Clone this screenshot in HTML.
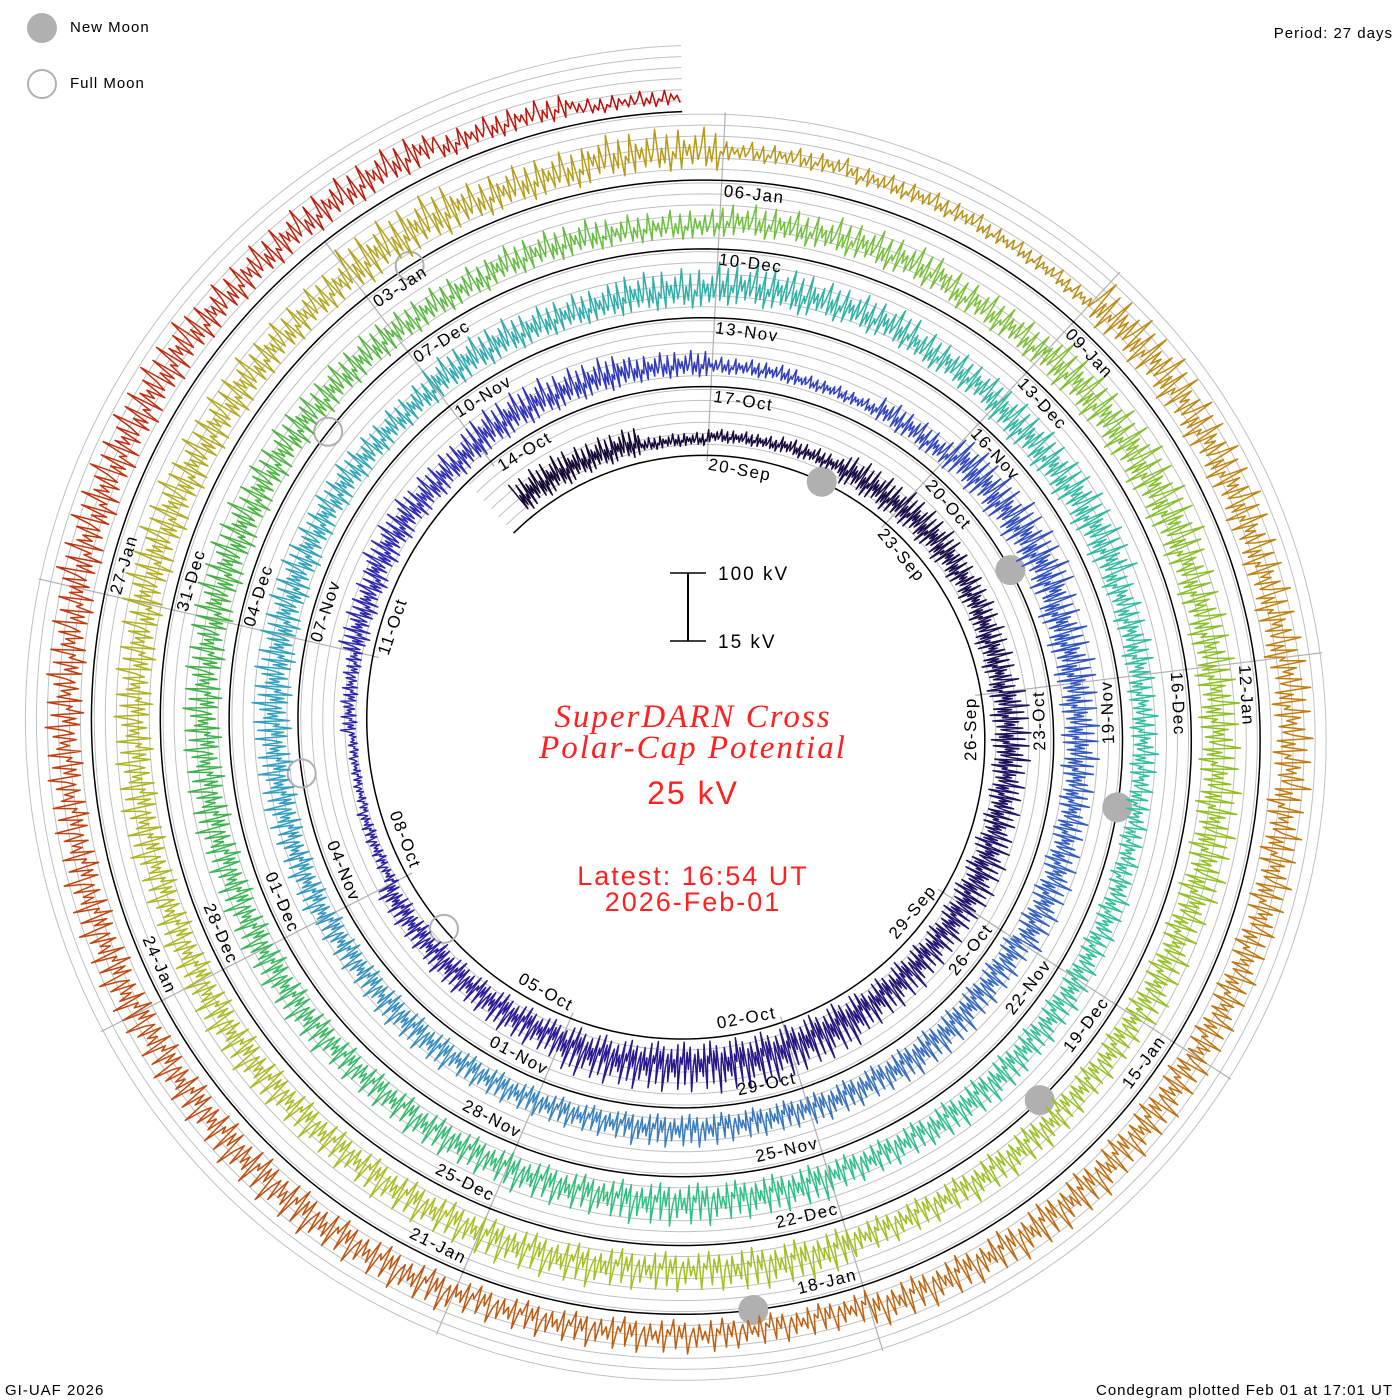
<!DOCTYPE html>
<html><head><meta charset="utf-8"><title>SuperDARN Condegram</title>
<style>
html,body{margin:0;padding:0;background:#fff;}
svg{display:block;font-family:"Liberation Sans",sans-serif;}
</style></head>
<body>
<svg id="chart" width="1400" height="1400" viewBox="0 0 1400 1400" xmlns="http://www.w3.org/2000/svg">
  <rect x="0" y="0" width="1400" height="1400" fill="#fff"/>
  <g id="grid"></g>
  <g id="moons"></g>
  <g id="trace"></g>
  <g id="labels"></g>

  <g>
    <circle cx="42" cy="28" r="15" fill="#b0b0b0"/>
    <text x="70" y="28" font-size="15" letter-spacing="1" dominant-baseline="middle">New Moon</text>
    <circle cx="42" cy="84" r="14" fill="none" stroke="#b0b0b0" stroke-width="2"/>
    <text x="70" y="84" font-size="15" letter-spacing="1" dominant-baseline="middle">Full Moon</text>
  </g>
  <text x="1393" y="38" font-size="15" letter-spacing="1" text-anchor="end">Period: 27 days</text>
  <text x="5" y="1395" font-size="15" letter-spacing="1">GI-UAF 2026</text>
  <text x="1393" y="1395" font-size="15" letter-spacing="1" text-anchor="end">Condegram plotted Feb 01 at 17:01 UT</text>

  <g>
    <line x1="688" y1="573" x2="688" y2="641" stroke="#000" stroke-width="2"/>
    <line x1="670" y1="573" x2="706" y2="573" stroke="#000" stroke-width="1.5"/>
    <line x1="670" y1="641" x2="706" y2="641" stroke="#000" stroke-width="1.5"/>
    <text x="718" y="580" font-size="19" letter-spacing="2">100 kV</text>
    <text x="718" y="648" font-size="19" letter-spacing="2">15 kV</text>
  </g>
  <g fill="#ff2020" text-anchor="middle">
    <text x="693" y="727" font-family="'Liberation Serif',serif" font-style="italic" font-size="33" letter-spacing="2">SuperDARN Cross</text>
    <text x="693" y="758" font-family="'Liberation Serif',serif" font-style="italic" font-size="33" letter-spacing="2">Polar-Cap Potential</text>
    <text x="693" y="804" font-size="32" letter-spacing="2">25 kV</text>
    <text x="693" y="885" font-size="27" letter-spacing="2">Latest: 16:54 UT</text>
    <text x="693" y="911" font-size="27" letter-spacing="2">2026-Feb-01</text>
  </g>
</svg>
<script>
// ---- data: daily high / low of cross polar-cap potential (kV), Sep 17 2025 .. Feb 01 2026
const dayHigh = [60,55,35, 40,45, 60,65,60, 60,70,65, 70,65,70, 80,85,80,80, 65,60,55, 35,30,40, 55,65,60,
  70,65,55, 45,40,55, 80,85,75, 70,65,70, 60,65,60, 55,60,55, 55,60,55, 60,65,70, 70,65,60,
  70,65,75, 85,80,70, 70,75,60, 55,50,55, 60,65,60, 70,75,70, 65,60,65, 65,70,70, 75,70,65,
  60,65,60, 70,75,65, 80,85,75, 75,80,70, 60,65,60, 75,70,75, 70,65,70, 65,70,70, 80,75,70,
  85,70,80, 60,55,50, 85,80,75, 80,75,70, 70,75,70, 55,60,60, 70,75,70, 75,70,70, 80,80,70, 70,50,35];
const dayLow = [8,10,15, 20,20, 10,12,15, 10,10,12, 10,12,10, 5,5,5,8, 10,12,15, 15,15,15, 10,12,10,
  12,12,15, 20,20,15, 15,15,10, 12,15,15, 10,12,12, 10,10,12, 12,12,12, 15,12,10, 12,15,15,
  15,15,15, 20,25,20, 10,10,12, 12,12,12, 12,12,12, 10,10,12, 12,12,12, 12,12,12, 10,12,12,
  12,15,15, 20,20,15, 12,10,12, 12,12,12, 12,12,12, 10,10,12, 12,12,12, 12,12,12, 12,12,15,
  10,10,15, 30,25,25, 15,15,15, 20,15,15, 12,12,12, 8,8,10, 12,12,12, 15,15,12, 15,15,15, 15,12,10];
const newMoonDays = [1.83, 31.52, 61.3, 91.04, 120.83];   // days since Sep 20 00 UT
const fullMoonDays = [17.13, 46.55, 76.97, 105.42];
const labelDays = [];
for (let d = 0; d <= 129; d += 3) labelDays.push(d);

const startT = -3.4, endT = 134.7, firstDayT = -3;
const cx = 693, cy = 730, r0 = 275, dr = 2.55, kv2px = 0.66;
const NS = 'http://www.w3.org/2000/svg';
const rad = t => r0 + dr * t;
const ang = t => (3 + t * 360 / 27) * Math.PI / 180;
const P = (t, off) => { const r = rad(t) + off, a = ang(t); return [cx + r * Math.sin(a), cy - r * Math.cos(a)]; };

const stops = [[-3,'#150830'],[5,'#1c0f50'],[14,'#2a1890'],[24,'#3030b8'],[32,'#3050c0'],[40,'#3a7ac0'],[47,'#30a0c0'],[54,'#30b0a8'],[61,'#30c0a0'],[68,'#30c080'],[75,'#40b040'],[81,'#70c040'],[88,'#90c020'],[96,'#a8c020'],[102,'#b0b020'],[108,'#b89818'],[114,'#c08010'],[121,'#c06010'],[128,'#c04010'],[135,'#c00808']];
function hex(h){return [1,3,5].map(i=>parseInt(h.substr(i,2),16));}
function colorAt(t){
  for (let i=0;i<stops.length-1;i++){
    if (t<=stops[i+1][0]){const f=Math.max(0,(t-stops[i][0])/(stops[i+1][0]-stops[i][0]));
      const a=hex(stops[i][1]),b=hex(stops[i+1][1]);
      return 'rgb('+a.map((v,k)=>Math.round(v+(b[k]-v)*f)).join(',')+')';}
  }
  return stops[stops.length-1][1];
}
function mk(tag, attrs, parent){const e=document.createElementNS(NS,tag);for(const k in attrs)e.setAttribute(k,attrs[k]);parent.appendChild(e);return e;}
function spiralPath(off, t0, t1){let s='';for(let t=t0;t<=t1+1e-9;t+=0.1){const p=P(Math.min(t,t1),off);s+=(s?'L':'M')+p[0].toFixed(1)+' '+p[1].toFixed(1);}return s;}

// grid
const grid = document.getElementById('grid');
for (let k = 1; k <= 6; k++) {
  const g = mk('path', {d: spiralPath(k * 11, startT, endT), fill:'none', stroke:'#c0c0c0', 'stroke-width':1}, grid);
  
  
}
for (const d of labelDays) {
  const a = P(d, -6), b = P(d, 68);
  const s = mk('line', {x1:a[0],y1:a[1],x2:b[0],y2:b[1],stroke:'#b0b0b0','stroke-width':1.2}, grid);
  
  
}
const base = mk('path', {d: spiralPath(0, startT, endT), fill:'none', stroke:'#000', 'stroke-width':1.5}, grid);



// moons
const moons = document.getElementById('moons');
for (const d of newMoonDays) {
  const p = P(d, 0);
  const c = mk('circle', {cx:p[0], cy:p[1], r:15, fill:'#b0b0b0'}, moons);
  
  
}
for (const d of fullMoonDays) {
  const p = P(d, 0);
  const c = mk('circle', {cx:p[0], cy:p[1], r:14, fill:'none', stroke:'#b0b0b0', 'stroke-width':2}, moons);
  
  
}

// trace
const trace = document.getElementById('trace');
const pattern = [1,0.1,0.55,0.2,0.85,0.0,0.45,0.3,0.95,0.05,0.7,0.35,0.6,0.15,0.8,0.25,0.5];
const perDay = 48;
let last = null;
for (let i = 0; i < dayHigh.length; i++) {
  let pts = last ? [last] : [];
  for (let j = 0; j < perDay; j++) {
    const t = firstDayT + i + j / perDay;
    if (t < startT || t > endT) continue;
    const f = pattern[(i * perDay + j) % pattern.length];
    const v = dayLow[i] + f * (dayHigh[i] - dayLow[i]);
    const p = P(t, v * kv2px);
    pts.push(p[0].toFixed(1) + ',' + p[1].toFixed(1));
  }
  if (pts.length < 2) { last = pts[pts.length-1] || last; continue; }
  const pl = mk('polyline', {points: pts.join(' '), fill:'none', stroke: colorAt(firstDayT + i + 0.5), 'stroke-width':1.5, 'stroke-linejoin':'round'}, trace);
  
  
  last = pts[pts.length-1];
}

// date labels
const labels = document.getElementById('labels');
const months = ['Jan','Feb','Mar','Apr','May','Jun','Jul','Aug','Sep','Oct','Nov','Dec'];
const start = Date.UTC(2025, 8, 20);
for (const d of labelDays) {
  const dt = new Date(start + d * 86400000);
  const txt = String(dt.getUTCDate()).padStart(2,'0') + '-' + months[dt.getUTCMonth()];
  const r = rad(d) - 13;
  const w = 66;
  const tc = d + (w / 2 / r) * 180 / Math.PI / (360 / 27);
  const p = P(tc, -13);
  let rot = ((3 + tc * 360 / 27) % 360 + 360) % 360;
  if (rot > 87 && rot < 267) rot -= 180;
  const el = mk('text', {x:p[0], y:p[1], 'font-size':17, 'letter-spacing':1.5, 'text-anchor':'middle', 'dominant-baseline':'middle', transform:'rotate(' + rot.toFixed(1) + ' ' + p[0].toFixed(1) + ' ' + p[1].toFixed(1) + ')'}, labels);
  el.textContent = txt;
  
  
}
</script>
</body></html>
